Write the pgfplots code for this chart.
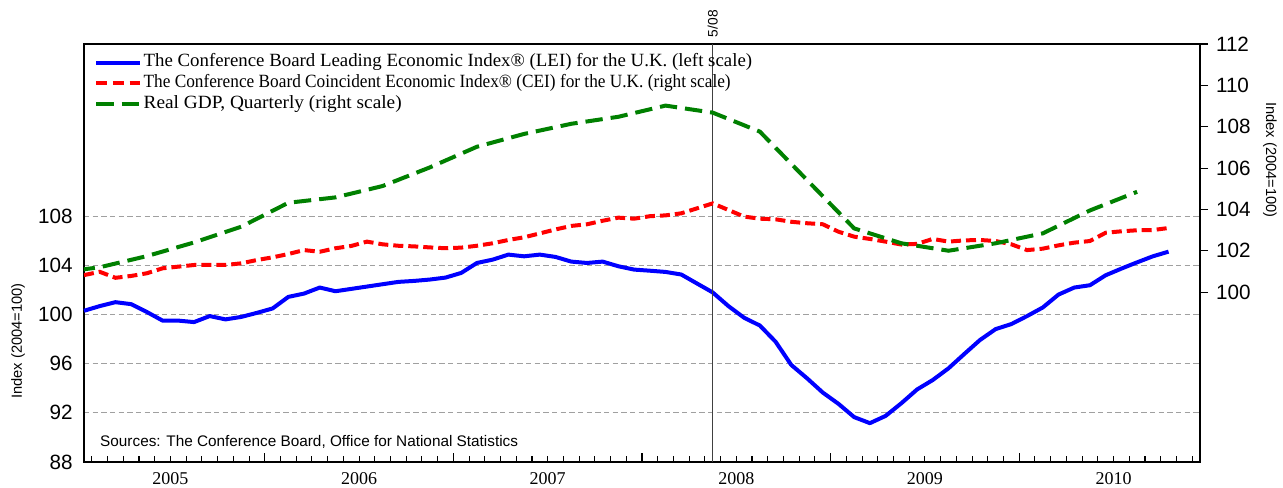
\documentclass[border=0pt]{standalone}
\usepackage{fontspec}
\setmainfont{Liberation Sans}
\newfontfamily\tnr{Liberation Serif}
\usepackage{pgfplots}
\pgfplotsset{compat=1.18}
\definecolor{lblue}{RGB}{0,0,255}
\definecolor{lred}{RGB}{255,0,0}
\definecolor{lgreen}{RGB}{0,128,0}
\definecolor{gridgray}{RGB}{160,160,160}

\pgfplotstableread{
i v
0 100.3
1 100.68
2 101.0
3 100.84
4 100.2
5 99.5
6 99.5
7 99.38
8 99.87
9 99.6
10 99.8
11 100.13
12 100.49
13 101.43
14 101.7
15 102.19
16 101.89
17 102.08
18 102.27
19 102.46
20 102.65
21 102.73
22 102.84
23 103.0
24 103.38
25 104.19
26 104.46
27 104.87
28 104.73
29 104.87
30 104.68
31 104.3
32 104.19
33 104.3
34 103.92
35 103.65
36 103.56
37 103.46
38 103.25
39 102.52
40 101.79
41 100.68
42 99.73
43 99.1
44 97.78
45 95.89
46 94.81
47 93.65
48 92.73
49 91.65
50 91.16
51 91.75
52 92.78
53 93.9
54 94.67
55 95.62
56 96.78
57 97.92
58 98.81
59 99.22
60 99.87
61 100.57
62 101.62
63 102.19
64 102.38
65 103.19
66 103.73
67 104.24
68 104.73
69 105.11
}\lei

\pgfplotstableread{
i v
0 100.82
1 100.98
2 100.69
3 100.78
4 100.91
5 101.15
6 101.23
7 101.31
8 101.31
9 101.31
10 101.39
11 101.55
12 101.68
13 101.84
14 102.03
15 101.95
16 102.12
17 102.23
18 102.44
19 102.31
20 102.24
21 102.21
22 102.16
23 102.12
24 102.15
25 102.24
26 102.36
27 102.52
28 102.65
29 102.84
30 103.03
31 103.2
32 103.28
33 103.45
34 103.6
35 103.55
36 103.67
37 103.71
38 103.81
39 104.05
40 104.29
41 103.97
42 103.65
43 103.55
44 103.52
45 103.4
46 103.33
47 103.28
48 102.92
49 102.68
50 102.57
51 102.44
52 102.3
53 102.33
54 102.57
55 102.44
56 102.5
57 102.52
58 102.47
59 102.31
60 102.03
61 102.1
62 102.26
63 102.39
64 102.47
65 102.87
66 102.94
67 102.99
68 103.0
69 103.1
}\cei

\pgfplotstableread{
i v
-2 100.91
1 101.2
4 101.74
7 102.4
10 103.16
13 104.32
16 104.58
19 105.13
22 106.03
25 107.03
28 107.65
31 108.14
34 108.48
37 109.02
40 108.68
43 107.76
46 105.42
49 103.08
52 102.36
55 102.0
58 102.36
61 102.84
64 103.95
67 104.85
}\gdp

\begin{document}
\begin{tikzpicture}
\path[use as bounding box] (-63pt,-18.75pt) rectangle (899.25pt,346.5pt);
\begin{axis}[
  at={(0pt,0pt)}, anchor=south west,
  scale only axis, width=837pt, height=313.5pt,
  xmin=0, xmax=71, ymin=88, ymax=122,
  clip=false,
  axis line style={line width=2pt},
  ytick={88,92,...,108},
  ymajorgrids,
  grid style={gridgray, line width=0.9pt, dash pattern=on 4pt off 2.5pt},
  ytick style={draw=none},
  /pgf/number format/assume math mode=true,
  yticklabel style={font=\fontsize{15.5}{18}\selectfont, xshift=-5pt},
  xtick={5.5,17.5,...,65.5},
  xticklabels={2005,2006,2007,2008,2009,2010},
  xticklabel style={font=\tnr\fontsize{13.5}{15}\selectfont, yshift=-4pt},
  xtick pos=bottom,
  tick align=inside,
  major tick length=0pt,
  minor xtick={0.5,1.5,...,70.5},
  minor tick length=4.5pt,
  minor x tick style={black, line width=0.8pt},
  extra x ticks={11.5,23.5,35.5,47.5,59.5},
  extra x tick labels={},
  extra x tick style={major tick length=6.5pt, grid=none, tick style={black, line width=0.8pt}},
  legend style={at={(0.009,0.981)}, anchor=north west, draw=none, fill=none, inner sep=0pt,
    font=\tnr\fontsize{14}{15}\selectfont, row sep=0pt,
    nodes={inner sep=1pt, text height=10pt, text depth=3.5pt}},
  legend cell align=left,
  legend image code/.code={\draw[#1] (0pt,0pt) -- (33pt,0pt);},
]
\addplot[lblue, line width=3pt, line join=round] table[x=i, y=v] {\lei};
\addlegendentry{\scalebox{1.01}[1]{The Conference Board Leading Economic Index® (LEI) for the U.K. (left scale)}}
\addlegendimage{lred, line width=3pt, dash pattern=on 8pt off 4.5pt}
\addlegendentry{\scalebox{0.925}[1]{The Conference Board Coincident Economic Index® (CEI) for the U.K. (right scale)}}
\addlegendimage{lgreen, line width=3pt, dash pattern=on 13pt off 6pt}
\addlegendentry{\scalebox{1.035}[1]{Real GDP, Quarterly (right scale)}}
\draw[black!75, line width=0.9pt] (axis cs:40,88) -- (axis cs:40,122);
\coordinate (m508) at (axis cs:40,122);
\node[anchor=base west, inner sep=0pt, font=\fontsize{11.5}{13}\selectfont] at (rel axis cs:0.0143,0.038) {Sources: The Conference Board, Office for National Statistics};
\end{axis}
\begin{axis}[
  at={(0pt,0pt)}, anchor=south west,
  scale only axis, width=837pt, height=313.5pt,
  xmin=0, xmax=71, ymin=91.78, ymax=112,
  axis x line=none, axis y line*=right,
  axis line style={line width=2pt, -},
  ytick={100,102,...,112},
  tick align=outside,
  major tick length=6pt,
  ytick style={black, line width=0.8pt},
  /pgf/number format/assume math mode=true,
  yticklabel style={font=\fontsize{15.5}{18}\selectfont, xshift=2.5pt},
]
\addplot[lred, line width=3pt, dash pattern=on 7.5pt off 3.75pt] table[x=i, y=v] {\cei};
\addplot[lgreen, line width=3pt, dash pattern=on 13pt off 6pt] table[x=i, y=v] {\gdp};
\end{axis}
\node[rotate=90, anchor=west, inner sep=0pt, font=\fontsize{10.3}{12}\selectfont] at ([yshift=5pt]m508) {5/08};
\node[rotate=90, font=\fontsize{11}{13}\selectfont] at (-49.5pt,90.75pt) {Index (2004=100)};
\node[rotate=-90, font=\fontsize{11}{13}\selectfont] at (889.5pt,226.5pt) {Index (2004=100)};
\end{tikzpicture}
\end{document}
